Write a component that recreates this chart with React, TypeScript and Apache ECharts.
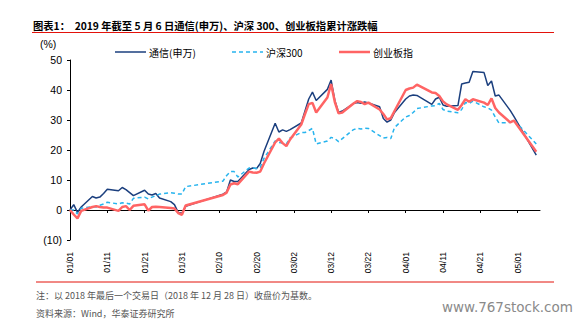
import React, { useEffect, useRef } from "react";
import * as echarts from "echarts";

const dates = [
  "01/01", "01/02", "01/03", "01/04", "01/07", "01/08", "01/09", "01/10", "01/11",
  "01/14", "01/15", "01/16", "01/17", "01/18", "01/21", "01/22", "01/23", "01/24", "01/25",
  "01/28", "01/29", "01/30", "01/31", "02/01",
  "02/11", "02/12", "02/13", "02/14", "02/15", "02/18", "02/19", "02/20", "02/21", "02/22",
  "02/25", "02/26", "02/27", "02/28", "03/01",
  "03/04", "03/05", "03/06", "03/07", "03/08", "03/11", "03/12", "03/13", "03/14", "03/15",
  "03/18", "03/19", "03/20", "03/21", "03/22", "03/25", "03/26", "03/27", "03/28", "03/29",
  "04/01", "04/02", "04/03", "04/04", "04/08", "04/09", "04/10", "04/11", "04/12",
  "04/15", "04/16", "04/17", "04/18", "04/19", "04/22", "04/23", "04/24", "04/25", "04/26",
  "04/29", "04/30", "05/06",
];

const tongxin = [
  0, 1.8, -0.8, 1.0, 4.5, 4.0, 4.3, 5.5, 6.9,
  6.4, 7.5, 6.8, 5.8, 4.8, 6.6, 5.3, 5.0, 5.5, 4.0,
  2.8, 1.8, -0.8, -1.1, 1.2,
  5.3, 6.0, 10.0, 9.5, 9.5, 13.5, 14.0, 13.8, 15.5, 19.5,
  28.9, 26.0, 26.7, 26.2, 26.8,
  29.0, 33.0, 37.0, 39.3, 36.5, 40.2, 43.3, 36.5, 32.5, 33.0,
  35.5, 35.8, 35.6, 36.0, 35.7, 34.4, 30.5, 29.3, 30.0, 32.5,
  37.0, 38.0, 38.3, 38.2, 35.2, 37.0, 37.6, 35.0, 34.6,
  34.8, 42.0, 42.3, 42.6, 46.2, 45.8, 41.5, 43.0, 38.0, 38.3,
  33.2, 31.2, 18.3,
];

const hs300 = [
  0, 0.0, -1.3, 0.6, 1.1, 1.0, 1.6, 2.0, 2.6,
  2.0, 2.4, 2.3, 2.0, 3.9, 4.3, 3.7, 4.3, 4.8, 5.3,
  5.8, 5.6, 5.3, 5.3, 7.8,
  9.6, 11.5, 12.8, 12.8, 11.0, 14.0, 14.0, 13.8, 14.2, 17.2,
  23.0, 22.5, 22.3, 22.0, 24.0,
  25.8, 25.8, 26.5, 27.2, 22.0, 23.0, 24.2, 23.8, 22.8, 23.8,
  26.8, 27.2, 27.0, 27.3, 27.2, 24.8, 24.0, 24.2, 23.8, 27.5,
  31.0, 31.5, 32.5, 33.8, 34.7, 34.8, 35.5, 33.5, 33.0,
  32.4, 33.5, 35.8, 35.5, 36.3, 34.4, 34.0, 33.3, 31.0, 29.0,
  29.2, 30.0, 22.0,
];

const chuangye = [
  0, -1.5, -2.8, -0.3, 1.0, 1.3, 1.0, 0.8, 0.8,
  -0.3, 1.0, 1.3, 0.0, 1.4, 1.9, -0.2, 1.0, 1.1, 1.0,
  0.7, 0.5, -1.0, -1.6, 1.5,
  5.0, 5.8, 8.5, 8.9, 8.6, 12.8, 12.5, 12.4, 12.8, 15.5,
  22.5, 23.8, 22.3, 21.3, 23.5,
  28.5, 32.0, 35.3, 35.7, 32.5, 37.5, 42.0, 36.0, 32.2, 32.5,
  35.5, 36.3, 36.0, 35.3, 35.8, 33.5, 32.0, 30.2, 30.6, 33.0,
  40.0, 40.5, 40.8, 41.8, 39.2, 39.0, 38.0, 36.2, 35.2,
  33.4, 35.0, 36.9, 36.1, 36.9, 35.8, 35.0, 37.2, 34.0, 32.5,
  29.2, 29.8, 19.4,
];

const seriesNames = ["通信(申万)", "沪深300", "创业板指"];
const seriesColors = ["#1B3F7E", "#27B4EE", "#FF6464"];
const xTickDays = [0, 10, 20, 30, 40, 50, 60, 70, 80, 90, 100, 110, 120];

const YEAR = 2019;
const DAY = 86400000;
const base = Date.UTC(YEAR, 0, 1);

function dayIndex(md: string): number {
  const [m, d] = md.split("/").map(Number);
  return (Date.UTC(YEAR, m - 1, d) - base) / DAY;
}

function dayLabel(v: number): string {
  const dt = new Date(base + v * DAY);
  const mm = String(dt.getUTCMonth() + 1).padStart(2, "0");
  const dd = String(dt.getUTCDate()).padStart(2, "0");
  return `${mm}/${dd}`;
}

const toPairs = (vals: number[]) => dates.map((d, i) => [dayIndex(d), vals[i]]);

const CJK = '"Noto Sans CJK SC", "Noto Sans", sans-serif';
const LATIN = '"Liberation Sans", Arial, sans-serif';

export default function App() {
  const ref = useRef<HTMLDivElement>(null);

  useEffect(() => {
    if (!ref.current) return;
    const chart = echarts.init(ref.current, undefined, { renderer: "svg" });

    // legend drawn as graphic (line swatch + text)
    const legendX = [115, 232, 339];
    const legendY = 52;
    const legendGraphics: any[] = [];
    seriesNames.forEach((name, i) => {
      legendGraphics.push({
        type: "line",
        shape: { x1: legendX[i], y1: legendY, x2: legendX[i] + 31, y2: legendY },
        style: {
          stroke: seriesColors[i],
          lineWidth: i === 2 ? 2.5 : 1.5,
          lineDash: i === 1 ? [4, 3] : null,
        },
      });
      legendGraphics.push({
        type: "text",
        x: legendX[i] + 34,
        y: legendY,
        style: {
          text: name,
          font: `10px ${CJK}`,
          fill: "#000",
          textVerticalAlign: "middle",
        },
      });
    });

    chart.setOption({
      animation: false,
      backgroundColor: "#ffffff",
      grid: { left: 70, right: 44, top: 60, bottom: 91 },
      xAxis: [
        {
          type: "value",
          min: 0,
          max: 126,
          interval: 10,
          axisLine: { onZero: true, lineStyle: { color: "#000", width: 1 } },
          axisTick: { show: true, length: 3, lineStyle: { color: "#000" }, customValues: xTickDays },
          axisLabel: { show: false },
          splitLine: { show: false },
        },
        {
          type: "value",
          min: 0,
          max: 126,
          interval: 10,
          position: "bottom",
          axisLine: { show: false, onZero: false },
          axisTick: { show: false },
          axisLabel: {
            rotate: 90,
            margin: 12,
            fontSize: 8.5,
            fontFamily: LATIN,
            color: "#000",
            customValues: xTickDays,
            formatter: (v: number) => dayLabel(v),
          },
          splitLine: { show: false },
        },
      ],
      yAxis: {
        type: "value",
        min: -10,
        max: 50,
        interval: 10,
        axisLine: { show: true, onZero: false, lineStyle: { color: "#000", width: 1 } },
        axisTick: { show: true, length: 3, lineStyle: { color: "#000" } },
        axisLabel: {
          fontSize: 10.5,
          fontFamily: LATIN,
          color: "#000",
          margin: 8,
          formatter: (v: number) => (v < 0 ? `(${-v})` : `${v}`),
        },
        splitLine: { show: false },
      },
      series: [
        {
          name: seriesNames[0],
          type: "line",
          symbol: "none",
          data: toPairs(tongxin),
          lineStyle: { color: seriesColors[0], width: 1.5 },
          itemStyle: { color: seriesColors[0] },
        },
        {
          name: seriesNames[1],
          type: "line",
          symbol: "none",
          data: toPairs(hs300),
          lineStyle: { color: seriesColors[1], width: 1.5, type: [4, 3] },
          itemStyle: { color: seriesColors[1] },
        },
        {
          name: seriesNames[2],
          type: "line",
          symbol: "none",
          data: toPairs(chuangye),
          lineStyle: { color: seriesColors[2], width: 2.5 },
          itemStyle: { color: seriesColors[2] },
        },
      ],
      graphic: [
        ...legendGraphics,
        {
          type: "text",
          x: 33,
          y: 25,
          style: {
            text: "图表1：  2019 年截至 5 月 6 日通信(申万)、沪深 300、创业板指累计涨跌幅",
            font: `bold 10.3px ${CJK}`,
            fill: "#000",
            textVerticalAlign: "middle",
          },
        },
        {
          type: "line",
          shape: { x1: 32, y1: 32.5, x2: 554, y2: 32.5 },
          style: { stroke: "#E3120B", lineWidth: 1 },
        },
        {
          type: "text",
          x: 40,
          y: 44,
          style: {
            text: "(%)",
            font: `10.5px ${LATIN}`,
            fill: "#000",
            textVerticalAlign: "middle",
          },
        },
        {
          type: "line",
          shape: { x1: 36, y1: 282, x2: 554, y2: 282 },
          style: { stroke: "#E3120B", lineWidth: 1 },
        },
        {
          type: "text",
          x: 36,
          y: 295,
          style: {
            text: "注：以 2018 年最后一个交易日（2018 年 12 月 28 日）收盘价为基数。",
            font: `9px ${CJK}`,
            fill: "#555",
            textVerticalAlign: "middle",
          },
        },
        {
          type: "text",
          x: 36,
          y: 313,
          style: {
            text: "资料来源：Wind，华泰证券研究所",
            font: `9px ${CJK}`,
            fill: "#555",
            textVerticalAlign: "middle",
          },
        },
        {
          type: "text",
          x: 442,
          y: 307,
          style: {
            text: "www.767stock.com",
            font: `13.5px "DejaVu Sans", sans-serif`,
            fill: "#8a8a8a",
            textVerticalAlign: "middle",
          },
        },
      ],
    });
    return () => chart.dispose();
  }, []);

  return (
    <div
      ref={ref}
      style={{ position: "fixed", left: 0, top: 0, width: 584, height: 331, background: "#fff" }}
    />
  );
}
